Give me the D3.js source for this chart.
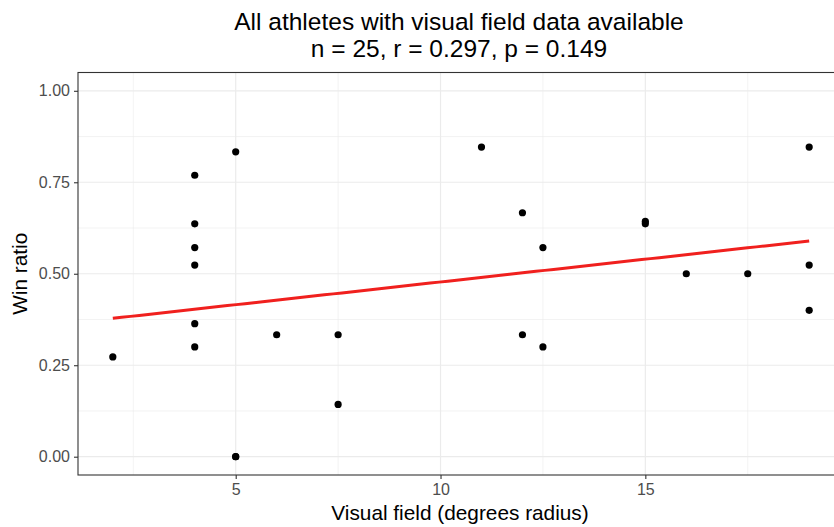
<!DOCTYPE html>
<html>
<head>
<meta charset="utf-8">
<script src="https://cdn.jsdelivr.net/npm/d3@7/dist/d3.min.js"></script>
<style>
  html, body { margin: 0; padding: 0; background: #fff; }
  svg { display: block; font-family: "Liberation Sans", Arial, sans-serif; }
</style>
</head>
<body>
<svg id="chart" width="834" height="527"></svg>
<script>
// Visual field radius (degrees) per athlete
const visualField = [2, 4, 4, 4, 4, 4, 4, 5, 5, 5, 6, 7.5, 7.5, 11, 12, 12, 12.5, 12.5, 15, 15, 16, 17.5, 19, 19, 19];
// Win ratio per athlete
const winRatio = [0.2727, 0.7692, 0.6364, 0.5714, 0.5238, 0.3636, 0.3, 0.8333, 0, 0, 0.3333, 0.3333, 0.1429,
                  0.8462, 0.6667, 0.3333, 0.5714, 0.3, 0.6429, 0.6364, 0.5, 0.5, 0.8462, 0.5238, 0.4];
const xTicks = [5, 10, 15];
const xMinorTicks = [2.5, 7.5, 12.5, 17.5];
const yTicks = [0, 0.25, 0.5, 0.75, 1.0];
const yMinorTicks = [0.125, 0.375, 0.625, 0.875];
const titleLines = ["All athletes with visual field data available", "n = 25, r = 0.297, p = 0.149"];
const xTitle = "Visual field (degrees radius)";
const yTitle = "Win ratio";

const svg = d3.select("#chart");
const panel = { left: 78, top: 72.5, right: 844, bottom: 475 };

const xExt = d3.extent(visualField);
const xPad = (xExt[1] - xExt[0]) * 0.05;
const x = d3.scaleLinear().domain([xExt[0] - xPad, xExt[1] + xPad]).range([panel.left, panel.right]);
const y = d3.scaleLinear().domain([-0.05, 1.05]).range([panel.bottom, panel.top]);

const g = svg.append("g");

// panel background
g.append("rect").attr("x", panel.left).attr("y", panel.top)
  .attr("width", panel.right - panel.left).attr("height", panel.bottom - panel.top)
  .attr("fill", "#fff");

// minor grid
g.selectAll(".xminor").data(xMinorTicks).join("line")
  .attr("x1", d => x(d)).attr("x2", d => x(d)).attr("y1", panel.top).attr("y2", panel.bottom)
  .attr("stroke", "#ebebeb").attr("stroke-width", 0.6);
g.selectAll(".yminor").data(yMinorTicks).join("line")
  .attr("y1", d => y(d)).attr("y2", d => y(d)).attr("x1", panel.left).attr("x2", panel.right)
  .attr("stroke", "#ebebeb").attr("stroke-width", 0.6);
// major grid
g.selectAll(".xmajor").data(xTicks).join("line")
  .attr("x1", d => x(d)).attr("x2", d => x(d)).attr("y1", panel.top).attr("y2", panel.bottom)
  .attr("stroke", "#ebebeb").attr("stroke-width", 1.2);
g.selectAll(".ymajor").data(yTicks).join("line")
  .attr("y1", d => y(d)).attr("y2", d => y(d)).attr("x1", panel.left).attr("x2", panel.right)
  .attr("stroke", "#ebebeb").attr("stroke-width", 1.2);

// points
const pts = visualField.map((v, i) => ({ x: v, y: winRatio[i] }));
g.selectAll(".pt").data(pts).join("circle")
  .attr("cx", d => x(d.x)).attr("cy", d => y(d.y)).attr("r", 3.6).attr("fill", "#000");

// least-squares fit
const mx = d3.mean(visualField), my = d3.mean(winRatio);
const sxy = d3.sum(pts, d => (d.x - mx) * (d.y - my));
const sxx = d3.sum(pts, d => (d.x - mx) ** 2);
const slope = sxy / sxx, intercept = my - slope * mx;
const fitX = d3.range(80).map(i => xExt[0] + (xExt[1] - xExt[0]) * i / 79);
g.append("path")
  .datum(fitX)
  .attr("d", d3.line().x(d => x(d)).y(d => y(intercept + slope * d)))
  .attr("fill", "none").attr("stroke", "#f0201e").attr("stroke-width", 3);

// panel border
g.append("rect").attr("x", panel.left).attr("y", panel.top)
  .attr("width", panel.right - panel.left).attr("height", panel.bottom - panel.top)
  .attr("fill", "none").attr("stroke", "#333").attr("stroke-width", 1.1);

// axes
const xAxis = d3.axisBottom(x).tickValues(xTicks).tickSize(4).tickPadding(5).tickFormat(d3.format("d"));
const yAxis = d3.axisLeft(y).tickValues(yTicks).tickSize(4).tickPadding(4).tickFormat(d3.format(".2f"));
const gx = svg.append("g").attr("transform", `translate(0,${panel.bottom})`).call(xAxis);
const gy = svg.append("g").attr("transform", `translate(${panel.left},0)`).call(yAxis);
[gx, gy].forEach(a => {
  a.select(".domain").remove();
  a.selectAll(".tick line").attr("stroke", "#333").attr("stroke-width", 1.1);
  a.selectAll(".tick text").attr("fill", "#4d4d4d").style("font-size", "16px")
    .style("font-family", "'Liberation Sans', Arial, sans-serif");
});

// titles
const cx = 459;
svg.append("text").attr("x", cx).attr("y", 30).attr("text-anchor", "middle")
  .style("font-size", "24.5px").attr("fill", "#000").text(titleLines[0]);
svg.append("text").attr("x", cx).attr("y", 56.5).attr("text-anchor", "middle")
  .style("font-size", "24.5px").attr("fill", "#000").text(titleLines[1]);

svg.append("text").attr("x", 460).attr("y", 520).attr("text-anchor", "middle")
  .style("font-size", "20.8px").attr("fill", "#000").text(xTitle);
svg.append("text").attr("transform", `translate(26.5,${y(0.5)}) rotate(-90)`).attr("text-anchor", "middle")
  .style("font-size", "20.8px").attr("fill", "#000").text(yTitle);
</script>
</body>
</html>
